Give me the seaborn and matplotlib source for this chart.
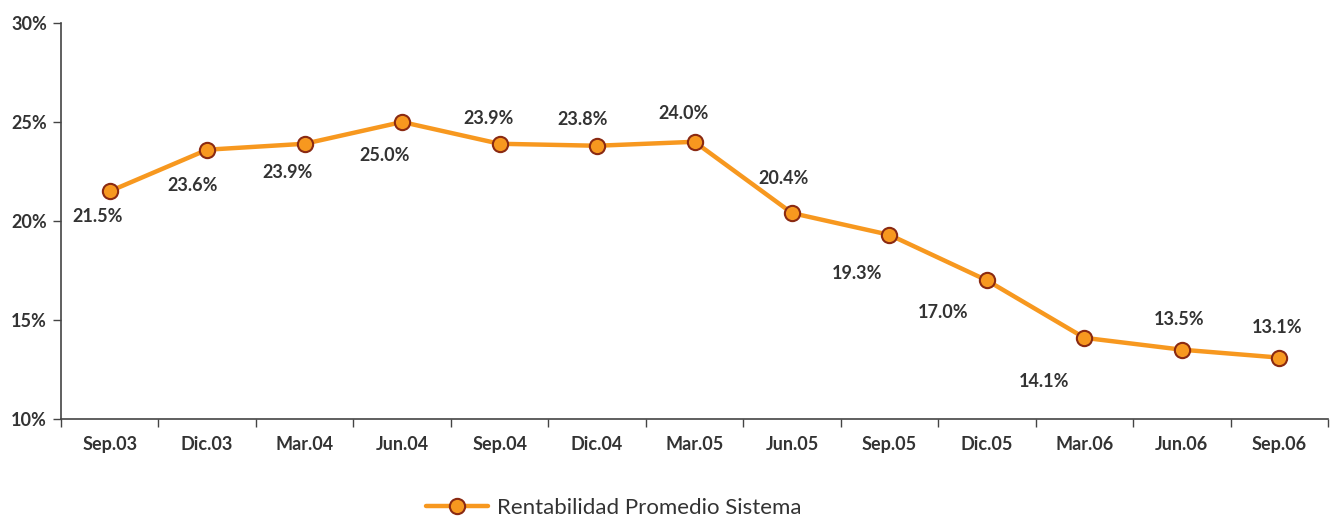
import pandas as pd
import numpy as np
import seaborn as sns
import matplotlib.pyplot as plt
from matplotlib.ticker import FuncFormatter, FixedLocator

# Datos
periodos = ["Sep.03", "Dic.03", "Mar.04", "Jun.04", "Sep.04", "Dic.04", "Mar.05",
            "Jun.05", "Sep.05", "Dic.05", "Mar.06", "Jun.06", "Sep.06"]
rentabilidad = [21.5, 23.6, 23.9, 25.0, 23.9, 23.8, 24.0,
                20.4, 19.3, 17.0, 14.1, 13.5, 13.1]
serie = "Rentabilidad Promedio Sistema"

# desplazamiento de etiquetas (pixeles)
offsets = [(-12, -25), (-15, -36), (-17, -29), (-17, -34), (-11, 25), (-14, 26), (-11, 28),
           (-8, 35), (-32, -39), (-44, -32), (-40, -44), (-3, 30), (-2, 30)]

df = pd.DataFrame({"periodo": periodos, "valor": rentabilidad})
df["x"] = np.arange(len(df))

sns.set_style("white")
plt.rcParams["font.family"] = ["Lato", "DejaVu Sans"]

naranja = "#F7981F"
borde = "#8A2A12"
texto = "#333333"

fig = plt.figure(figsize=(13.31, 5.19), dpi=100)
ax = fig.add_axes([0.0458, 0.1927, 0.952, 0.763])

sns.lineplot(data=df, x="x", y="valor", ax=ax, color=naranja, linewidth=3.2,
             marker="o", markersize=11, markerfacecolor=naranja,
             markeredgecolor=borde, markeredgewidth=1.5, label=serie)

for (i, v), (dx, dy) in zip(enumerate(rentabilidad), offsets):
    ax.annotate(f"{v:.1f}%", (i, v), xytext=(dx, dy), textcoords="offset pixels",
                ha="center", va="center", fontsize=13, fontweight="bold", color=texto)

ax.set_xlim(-0.5, len(periodos) - 0.5)
ax.set_ylim(10, 30)
ax.set_yticks([10, 15, 20, 25, 30])
ax.yaxis.set_major_formatter(FuncFormatter(lambda y, _: f"{y:.0f}%"))
ax.set_xticks(df["x"])
ax.set_xticklabels(periodos)
ax.xaxis.set_minor_locator(FixedLocator(np.arange(len(periodos) + 1) - 0.5))
ax.tick_params(axis="x", which="major", length=0, pad=12)
ax.tick_params(axis="x", which="minor", length=6, color="#444444", width=1, bottom=True)
ax.tick_params(axis="y", length=6, color="#444444", width=1, left=True, pad=4)
for lbl in ax.get_xticklabels() + ax.get_yticklabels():
    lbl.set_fontweight("bold")
    lbl.set_fontsize(13)
    lbl.set_color(texto)

ax.set_xlabel("")
ax.set_ylabel("")
for s in ["top", "right"]:
    ax.spines[s].set_visible(False)
for s in ["left", "bottom"]:
    ax.spines[s].set_color("#444444")
    ax.spines[s].set_linewidth(1.2)

ax.legend(loc="center", bbox_to_anchor=(0.436, -0.225), frameon=False,
          fontsize=16, handlelength=2.8, handletextpad=0.4, labelcolor="#333333",
          borderpad=0)

fig.savefig("out.png", dpi=100)
